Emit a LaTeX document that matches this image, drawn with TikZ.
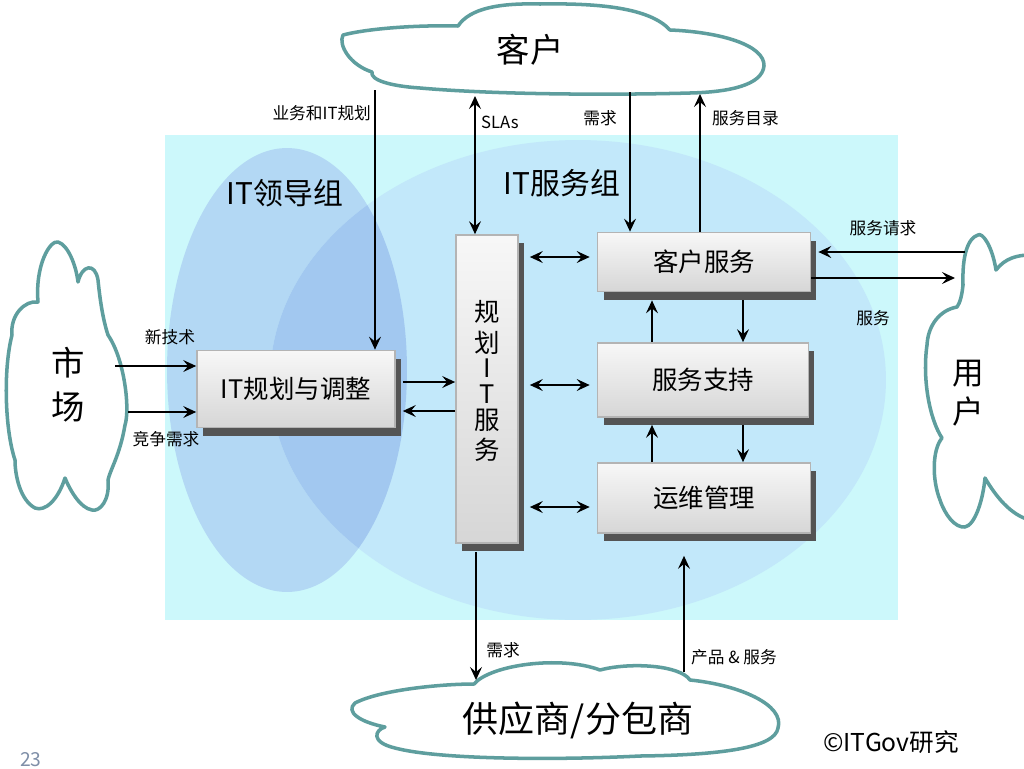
\documentclass[tikz,border=0pt]{standalone}
\usepackage{fontspec}
\setmainfont{Noto Sans CJK SC}
\usetikzlibrary{shadows,arrows.meta,calc}
\definecolor{bgcyan}{HTML}{CCF8FB}
\definecolor{bigell}{HTML}{C2E8FA}
\definecolor{leftell}{HTML}{B3D8F4}
\definecolor{ovl}{HTML}{A2C8F0}
\definecolor{cloudline}{HTML}{5E9E9E}
\definecolor{shadowc}{HTML}{545454}
\definecolor{boxline}{HTML}{B4B4B4}
\definecolor{pagenum}{HTML}{7F8FA8}
\tikzset{
  cloudy/.style={draw=cloudline, line width=2pt, fill=white, line join=round},
  procbox/.style={draw=boxline, line width=1pt, top color=white!94!gray, bottom color=gray!32,
    inner sep=0pt, drop shadow={shadow xshift=0.12cm, shadow yshift=-0.16cm, fill=shadowc, opacity=1}},
  arr/.style={line width=0.7pt, -{Stealth[length=2.6mm,width=2.4mm,inset=1mm]}},
  darr/.style={line width=0.7pt, {Stealth[length=2.6mm,width=2.4mm,inset=1mm]}-{Stealth[length=2.6mm,width=2.4mm,inset=1mm]}},
  lbl/.style={font=\fontsize{9.5}{11}\selectfont, inner sep=1pt},
  boxtxt/.style={font=\fontsize{14.5}{17}\selectfont},
  grouptxt/.style={font=\fontsize{17}{20}\selectfont},
}
\begin{document}
\begin{tikzpicture}[x=0.02cm,y=-0.02cm]
\useasboundingbox (0,0) rectangle (1024,768);
\clip (0,0) rectangle (1024,768);
\fill[white] (0,0) rectangle (1024,768);
% background area
\fill[bgcyan] (165,135) rectangle (898,620);
\begin{scope}
  \clip (165,135) rectangle (898,620);
  \fill[leftell] (287,370) ellipse [x radius=2.4cm, y radius=4.44cm];
  \fill[bigell] (578,380) ellipse [x radius=6.16cm, y radius=4.8cm];
  \clip (287,370) ellipse [x radius=2.4cm, y radius=4.44cm];
  \fill[ovl] (578,380) ellipse [x radius=6.16cm, y radius=4.8cm];
\end{scope}
\node[grouptxt] (lead) at (285,193) {IT领导组};
\node[grouptxt] (svcgrp) at (562,183) {IT服务组};

% clouds
\draw[cloudy] (343,35) .. controls (370,28) and (420,25) .. (458,26)
  .. controls (470,8) and (500,3) .. (540,4)
  .. controls (600,3) and (650,8) .. (670,30)
  .. controls (720,32) and (765,45) .. (764,66)
  .. controls (762,85) and (730,92) .. (690,93)
  .. controls (620,95) and (500,95) .. (420,88)
  .. controls (390,86) and (370,80) .. (372,72)
  .. controls (350,65) and (338,45) .. (343,35) -- cycle;
\draw[cloudy] (12,335) .. controls (10,315) and (25,300) .. (38,302)
  .. controls (35,265) and (50,240) .. (58,242)
  .. controls (68,245) and (76,265) .. (78,282)
  .. controls (82,265) and (95,262) .. (98,280)
  .. controls (100,300) and (103,320) .. (108,335)
  .. controls (125,360) and (130,410) .. (125,425)
  .. controls (120,455) and (110,470) .. (108,480)
  .. controls (110,500) and (100,512) .. (92,510)
  .. controls (80,508) and (70,490) .. (65,478)
  .. controls (58,500) and (45,512) .. (35,508)
  .. controls (20,500) and (15,475) .. (15,460)
  .. controls (5,430) and (3,370) .. (12,335) -- cycle;
\draw[cloudy] (1030,255) .. controls (1018,255) and (1005,258) .. (996,270)
  .. controls (992,245) and (982,232) .. (978,235)
  .. controls (968,238) and (962,255) .. (963,285)
  .. controls (962,295) and (960,303) .. (957,307)
  .. controls (940,310) and (928,325) .. (927,345)
  .. controls (922,380) and (930,420) .. (942,438)
  .. controls (932,450) and (932,480) .. (940,500)
  .. controls (945,515) and (955,528) .. (965,527)
  .. controls (975,525) and (983,500) .. (985,478)
  .. controls (995,495) and (1010,515) .. (1030,520)
  -- (1060,520) -- (1060,255) -- cycle;
\draw[cloudy] (355,703) .. controls (380,690) and (440,684) .. (474,684)
  .. controls (490,665) and (560,655) .. (600,670)
  .. controls (630,662) and (680,665) .. (690,680)
  .. controls (740,685) and (785,705) .. (778,728)
  .. controls (775,748) and (720,755) .. (640,756)
  .. controls (560,760) and (440,760) .. (395,748)
  .. controls (370,742) and (375,730) .. (385,727)
  .. controls (360,722) and (345,712) .. (355,703) -- cycle;
\node[font=\fontsize{19}{19}\selectfont] (kehu) at (530,50) {客户};
\node[align=center, font=\fontsize{19}{25}\selectfont] (shichang) at (68,385) {市\\场};
\node[align=center, font=\fontsize{18}{22.5}\selectfont] (yonghu) at (968,393) {用\\户};
\node[font=\fontsize{20.5}{21}\selectfont] (gys) at (578,720) {供应商/分包商};

% connector end points on the clouds
\coordinate (k1) at (375,90);
\coordinate (k2) at (475,96);
\coordinate (k3) at (630,92);
\coordinate (k4) at (700,94);
\coordinate (m1) at (115,366);
\coordinate (m2) at (128,412);
\coordinate (u1) at (965,252);
\coordinate (u2) at (955,278);
\coordinate (g1) at (476,680);
\coordinate (g2) at (684,672);
\coordinate (xa) at (652,0);
\coordinate (xb) at (743,0);

% boxes
\node[procbox, minimum width=3.96cm, minimum height=1.54cm] (itpa) at (296,389) {};
\node[boxtxt] (itpat) at (296,389) {IT规划与调整};
\node[procbox, minimum width=1.24cm, minimum height=6.16cm] (plan) at (487,389) {};
\node[boxtxt, align=center, font=\fontsize{14.5}{17.6}\selectfont] (plant) at (487,381)
  {规\\划\\[-3pt]I\\[-3pt]T\\[-3pt]服\\务};
\node[procbox, minimum width=4.26cm, minimum height=1.18cm] (cs) at (704,262) {};
\node[boxtxt] (cst) at (704,262) {客户服务};
\node[procbox, minimum width=4.22cm, minimum height=1.48cm] (ss) at (703,380) {};
\node[boxtxt] (sst) at (703,380) {服务支持};
\node[procbox, minimum width=4.26cm, minimum height=1.4cm] (om) at (704,498) {};
\node[boxtxt] (omt) at (704,498) {运维管理};

% connectors
\draw[arr] (k1) -- (itpa.north -| k1);
\draw[darr] (k2) -- (plan.north -| k2);
\draw[arr] (k3) -- (cs.north -| k3);
\draw[arr] (cs.north -| k4) -- (k4);
\draw[arr] (m1) -- (itpa.west |- m1);
\draw[arr] (m2) -- (itpa.west |- m2);
\draw[arr] ($(itpa.east)+(7,-7)$) -- ($(plan.west)+(0,-7)$);
\draw[arr] ($(plan.west)+(0,22)$) -- ($(itpa.east)+(7,22)$);
\draw[darr] ($(plan.east |- cs.west)+(11,-5)$) -- ($(cs.west)+(-7,-5)$);
\draw[darr] ($(plan.east |- ss.west)+(11,5)$) -- ($(ss.west)+(-7,5)$);
\draw[darr] ($(plan.east |- om.west)+(11,9)$) -- ($(om.west)+(-7,9)$);
\draw[arr] (ss.north -| xa) -- ($(cs.south -| xa)+(0,8)$);
\draw[arr] ($(cs.south -| xb)+(0,8)$) -- (ss.north -| xb);
\draw[arr] (om.north -| xa) -- ($(ss.south -| xa)+(0,7)$);
\draw[arr] ($(ss.south -| xb)+(0,7)$) -- (om.north -| xb);
\draw[arr] (u1) -- ($(cs.east |- u1)+(7,0)$);
\draw[arr] (cs.east |- u2) -- (u2);
\draw[arr] ($(plan.south -| g1)+(0,8)$) -- (g1);
\draw[arr] (g2) -- ($(om.south -| g2)+(0,22)$);

% connector labels
\node[lbl, anchor=east] (l1) at (373,113) {业务和IT规划};
\node[lbl, anchor=west] (l2) at (479,122) {SLAs};
\node[lbl] (l3) at (600,118) {需求};
\node[lbl, anchor=west] (l4) at (710,118) {服务目录};
\node[lbl] (l5) at (170,337) {新技术};
\node[lbl] (l6) at (166,439) {竞争需求};
\node[lbl] (l7) at (883,228) {服务请求};
\node[lbl] (l8) at (873,318) {服务};
\node[lbl] (l9) at (503,650) {需求};
\node[lbl] (l10) at (734,657) {产品 \& 服务};

% footer
\node[font=\fontsize{14}{16}\selectfont] (copy) at (891,742) {©ITGov研究};
\node[font=\fontsize{11}{12}\selectfont, text=pagenum] (pg) at (31,760) {23};
\end{tikzpicture}
\end{document}
